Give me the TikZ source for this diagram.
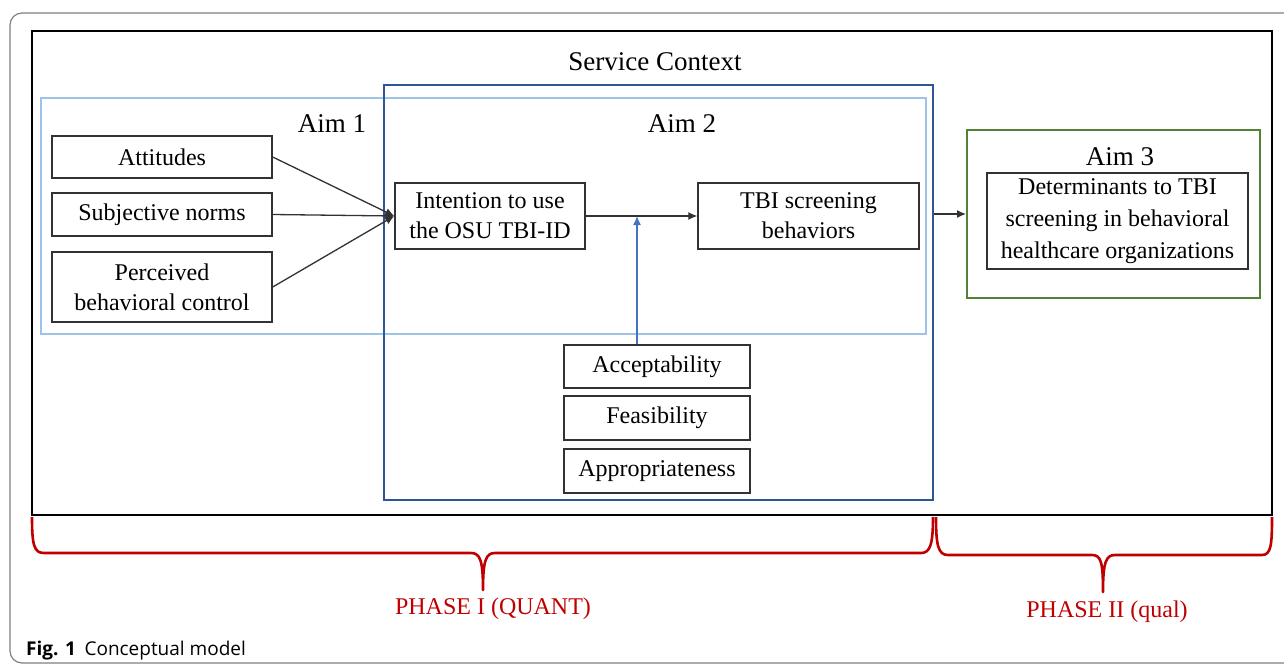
\documentclass[tikz,border=0pt]{standalone}
\usepackage{fontspec}
\setmainfont{Liberation Serif}
\newfontfamily\capfont{Open Sans}
\usetikzlibrary{arrows.meta}
\definecolor{lightblue}{RGB}{157,195,230}
\definecolor{darkblue}{RGB}{47,85,151}
\definecolor{aimgreen}{RGB}{84,130,53}
\definecolor{phasered}{RGB}{192,0,0}
\definecolor{boxgray}{RGB}{50,50,50}
\definecolor{arrowblue}{RGB}{68,114,196}
\tikzset{
  varbox/.style={draw=boxgray, line width=1.4pt, inner sep=0pt, align=center,
    font=\fontsize{24}{30}\selectfont},
  titletext/.style={inner sep=0pt, font=\fontsize{27}{31}\selectfont},
  phasetext/.style={inner sep=0pt, text=phasered, font=\fontsize{24}{28}\selectfont},
  conn/.style={draw=boxgray, line width=1.3pt, -{Latex[length=9pt,width=8pt]}},
  bracepath/.style={draw=phasered, line width=2.6pt, line join=round},
}
\begin{document}
\begin{tikzpicture}[x=1pt,y=-1pt]
\useasboundingbox (0,0) rectangle (1284,664);
\clip (0,0) rectangle (1284,664);
% outer figure frame
\draw[draw=gray, line width=1.2pt, rounded corners=12pt] (10,13) rectangle (1310,663);
% main frame
\node[draw=black, line width=2.4pt, minimum width=1240pt, minimum height=484pt, inner sep=0pt] (frame) at (652,273) {};
% Aim 1 and Aim 2 regions
\node[draw=lightblue, line width=2pt, minimum width=885pt, minimum height=236pt, inner sep=0pt] (aimone) at (483.5,216) {};
\node[draw=darkblue, line width=2pt, minimum width=549pt, minimum height=415pt, inner sep=0pt] (aimtwo) at (658.5,292.5) {};
% Aim 3 region
\node[draw=aimgreen, line width=2pt, minimum width=293pt, minimum height=168pt, inner sep=0pt] (aimthree) at (1113.5,214) {};
% titles
\node[titletext] (svc) at (655,62) {Service Context};
\node[titletext] (t1) at (332,124) {Aim 1};
\node[titletext] (t2) at (682,124) {Aim 2};
\node[titletext] (t3) at (1120,157) {Aim 3};
% boxes
\node[varbox, minimum width=220pt, minimum height=42pt] (att) at (162,157) {Attitudes};
\node[varbox, minimum width=220pt, minimum height=43pt] (sub) at (162,214.5) {Subjective norms};
\node[varbox, minimum width=220pt, minimum height=70pt] (pbc) at (162,287) {Perceived\\behavioral control};
\node[varbox, minimum width=190pt, minimum height=66pt] (int) at (490,216) {Intention to use\\the OSU TBI-ID};
\node[varbox, minimum width=221pt, minimum height=66pt] (tbi) at (808.5,216) {TBI screening\\behaviors};
\node[varbox, minimum width=186pt, minimum height=43pt] (acc) at (657,366.5) {Acceptability};
\node[varbox, minimum width=186pt, minimum height=44pt] (fea) at (657,418) {Feasibility};
\node[varbox, minimum width=186pt, minimum height=44pt] (app) at (657,471) {Appropriateness};
\node[varbox, minimum width=261pt, minimum height=96pt, font=\fontsize{24}{32}\selectfont] (det) at (1117.5,221) {Determinants to TBI\\screening in behavioral\\healthcare organizations};
% connectors
\draw[conn] (att.east) -- (int.west);
\draw[conn] (sub.east) -- (int.west);
\draw[conn] (pbc.east) -- (int.west);
\draw[conn] (int.east) -- (tbi.west);
\coordinate (accfoot) at ([xshift=-20pt]acc.north);
\coordinate (mod) at (accfoot |- int.east);
\draw[draw=arrowblue, line width=1.4pt, -{Latex[length=9pt,width=8pt]}] (accfoot) -- (mod);
\draw[conn] (aimtwo.east |- aimthree.west) -- (aimthree.west);
% braces
\draw[bracepath] (32,517) .. controls (32,545) and (34,553) .. (44,553) -- (471,553)
  .. controls (480,553) and (483,560) .. (483,590)
  .. controls (483,560) and (486,553) .. (495,553) -- (921,553)
  .. controls (930,553) and (933,545) .. (933,517);
\draw[bracepath] (936,517) .. controls (936,545) and (938,555) .. (948,555) -- (1092,555)
  .. controls (1101,555) and (1103,562) .. (1103,592)
  .. controls (1103,562) and (1106,555) .. (1115,555) -- (1262,555)
  .. controls (1271,555) and (1272,545) .. (1272,517);
\node[phasetext] (ph1) at (493,609) {PHASE I (QUANT)};
\node[phasetext] (ph2) at (1107,612) {PHASE II (qual)};
% caption
\node[anchor=base west, inner sep=0pt, font=\capfont\fontsize{19}{22}\selectfont] (cap) at (26,655) {\textbf{Fig. 1}\hspace{0.45em}Conceptual model};
\end{tikzpicture}
\end{document}
